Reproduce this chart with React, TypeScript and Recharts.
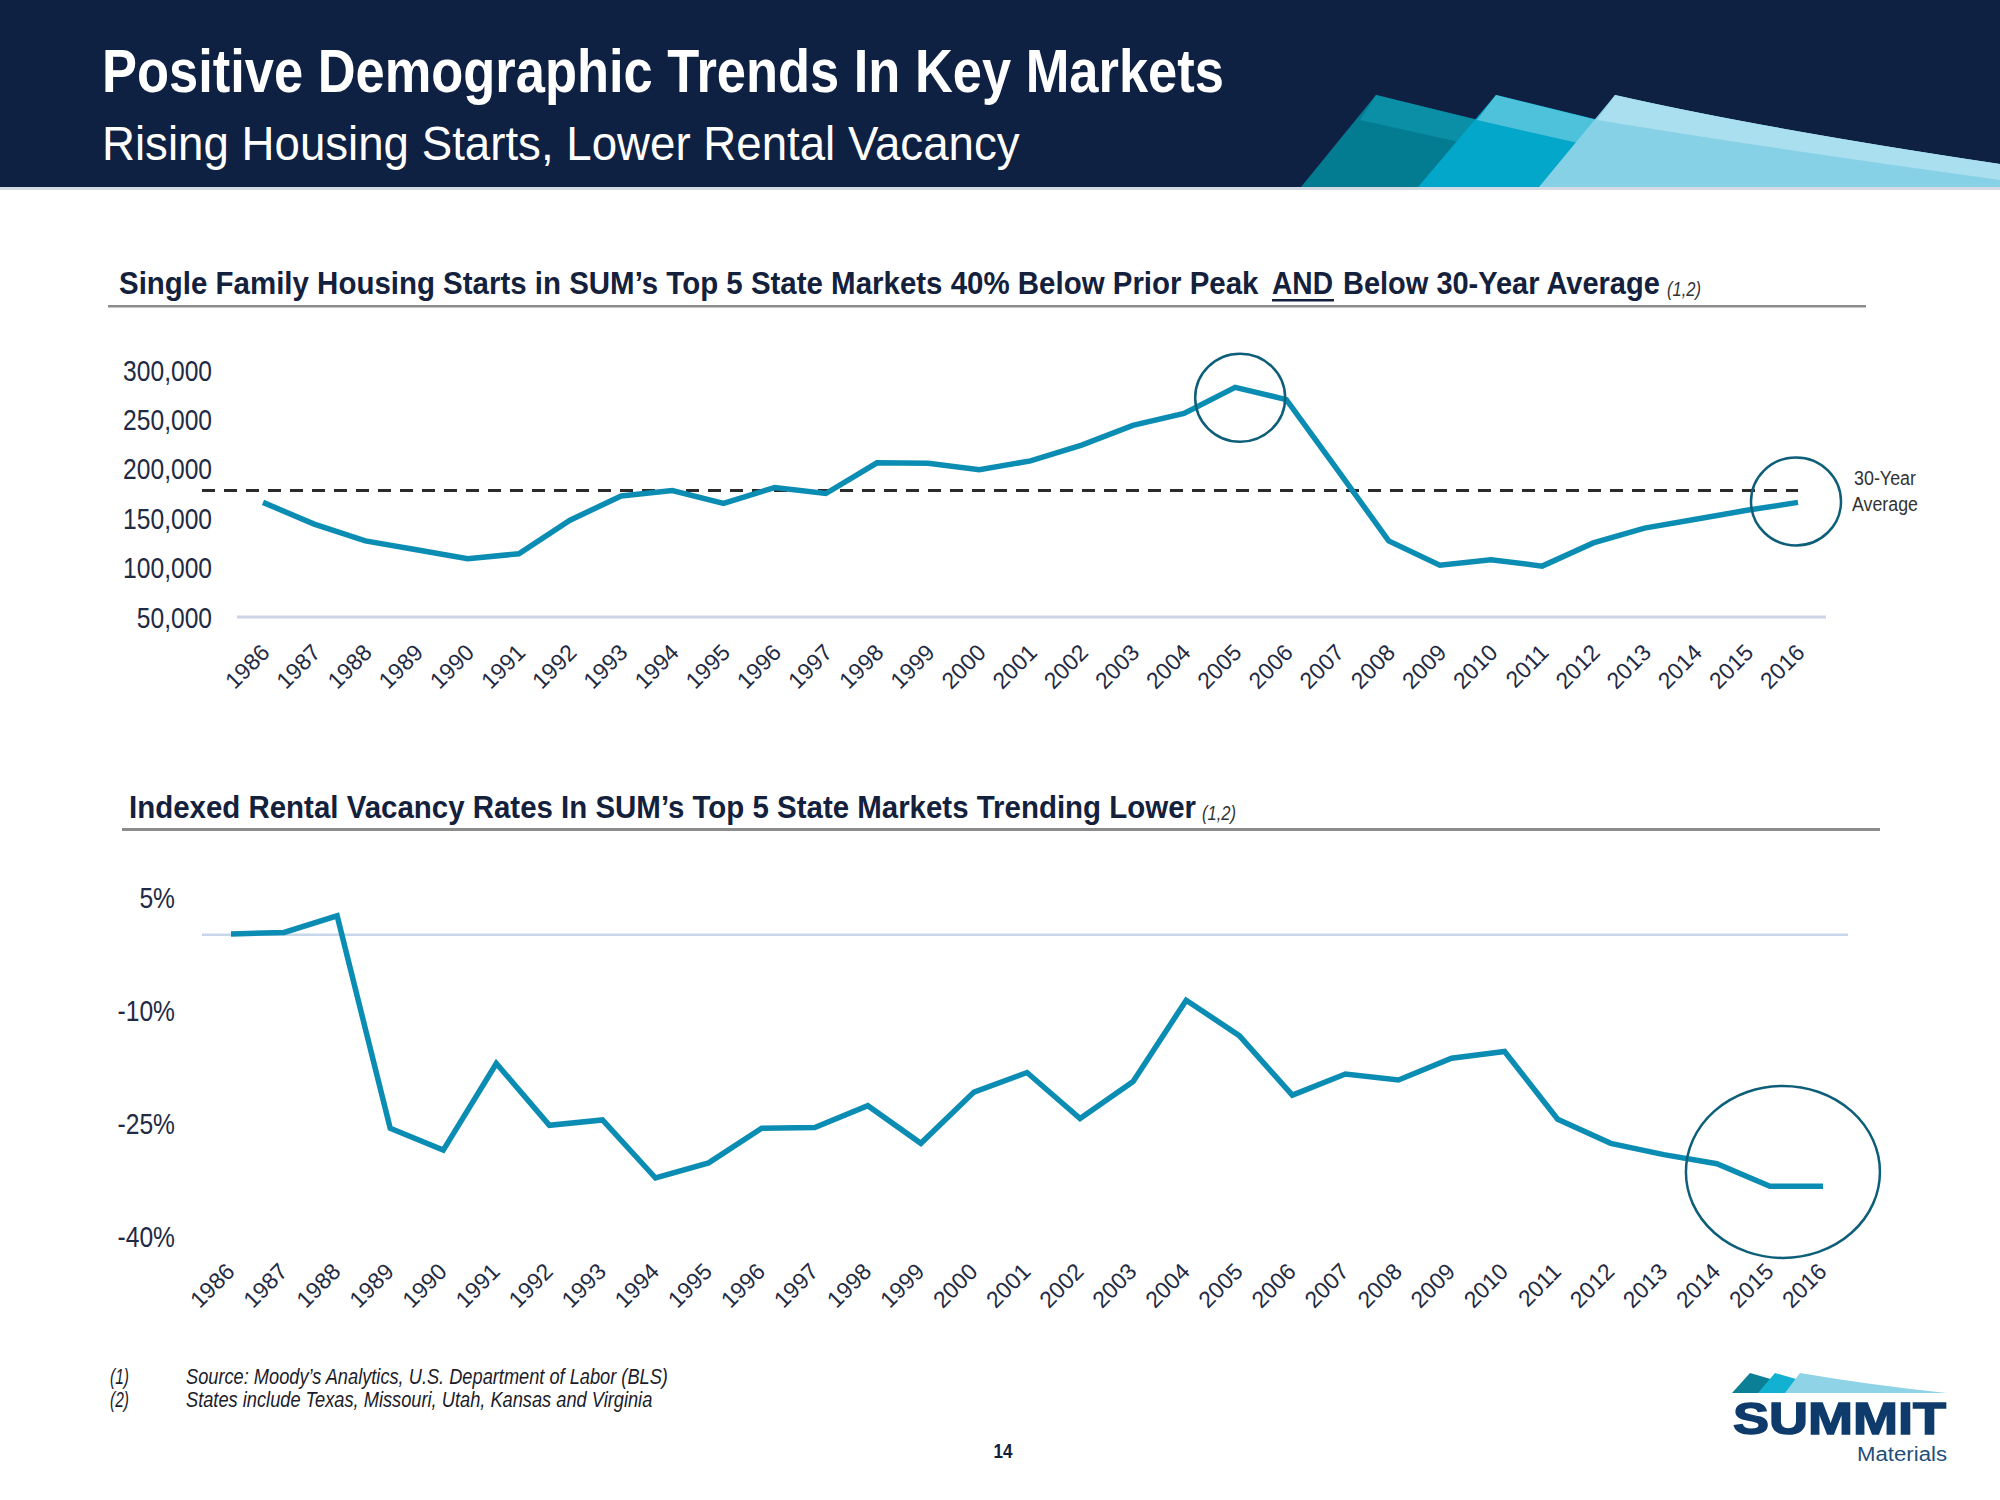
import React from "react";
import {
  LineChart,
  Line,
  XAxis,
  YAxis,
  ReferenceLine,
  ReferenceDot,
} from "recharts";

// categories
const years = [
  "1986", "1987", "1988", "1989", "1990", "1991", "1992", "1993", "1994", "1995", "1996",
  "1997", "1998", "1999", "2000", "2001", "2002", "2003", "2004", "2005", "2006",
  "2007", "2008", "2009", "2010", "2011", "2012", "2013", "2014", "2015", "2016",
];

// single family housing starts
const housingStarts = [
  166000, 144000, 127000, 118000, 109000, 114000, 148000, 172500, 178000, 165000, 181000,
  175000, 206000, 205500, 199000, 208000, 224000, 244000, 256000, 282500, 270000,
  199000, 127000, 102500, 108000, 101500, 125000, 140000, 149000, 158000, 166000,
];
const thirtyYearAverage = 178000;
const startsTicks = [50000, 100000, 150000, 200000, 250000, 300000];

// indexed rental vacancy, % change
const vacancyIndex = [
  0.1, 0.3, 2.5, -25.7, -28.6, -17.1, -25.3, -24.6, -32.3, -30.3, -25.7,
  -25.6, -22.7, -27.7, -20.9, -18.3, -24.4, -19.5, -8.7, -13.4, -21.3,
  -18.5, -19.3, -16.4, -15.5, -24.5, -27.7, -29.2, -30.4, -33.4, -33.4,
];
const vacancyTicks = [5, -10, -25, -40];

const footnotes = [
  ["(1)", "Source:  Moody\u2019s Analytics, U.S. Department of Labor (BLS)"],
  ["(2)", "States include Texas, Missouri, Utah, Kansas and Virginia"],
];

const NAVY = "#14213d";
const TEXT = "#1f2a44";
const LINE = "#0b8db3";
const RING = "#0d5f79";
const SANS = "'Liberation Sans', Arial, sans-serif";

const startsData = years.map((year, i) => ({ year, value: housingStarts[i] }));
const vacancyData = years.map((year, i) => ({ year, value: vacancyIndex[i] }));

// the slide uses a narrow face we don't have, so squeeze regular text to the width it takes
let measureCtx: CanvasRenderingContext2D | null = null;
const measure = (text: string, font: string) => {
  if (!measureCtx) measureCtx = document.createElement("canvas").getContext("2d");
  if (!measureCtx) return 0;
  measureCtx.font = font;
  return measureCtx.measureText(text).width;
};

interface FitTextProps {
  x: number;
  y: number;
  width: number;
  size: number;
  text: string;
  weight?: string;
  italic?: boolean;
  anchor?: "start" | "middle" | "end";
  fill?: string;
  family?: string;
  stroke?: string;
}

const FitText = ({
  x,
  y,
  width,
  size,
  text,
  weight = "normal",
  italic = false,
  anchor = "start",
  fill = NAVY,
  family = SANS,
  stroke,
}: FitTextProps) => {
  const natural = measure(text, `${italic ? "italic " : ""}${weight} ${size}px ${family}`);
  const sx = natural > 0 ? width / natural : 1;
  return (
    <text
      x={0}
      y={0}
      transform={`translate(${x} ${y}) scale(${sx} 1)`}
      fontSize={size}
      fontWeight={weight}
      fontStyle={italic ? "italic" : "normal"}
      fontFamily={family}
      textAnchor={anchor}
      fill={fill}
      stroke={stroke}
      strokeWidth={stroke ? 1.5 : undefined}
    >
      {text}
    </text>
  );
};

// rotated year labels under both charts
const YearTick = ({ x, y, payload, dx }: any) => {
  const ax = x + dx;
  const ay = y + 37;
  return (
    <text
      x={ax}
      y={ay}
      transform={`rotate(-45, ${ax}, ${ay})`}
      textAnchor='end'
      fontSize={23}
      fill={TEXT}
      fontFamily={SANS}
    >
      {payload.value}
    </text>
  );
};

// value labels, squeezed to look like the narrow face on the slide
const ValueTick = ({ x, y, payload, format }: any) => (
  <text
    x={x}
    y={y}
    dy='0.355em'
    textAnchor='end'
    fontSize={30}
    fill={TEXT}
    fontFamily={SANS}
    transform={`translate(${x} 0) scale(0.82 1) translate(${-x} 0)`}
  >
    {format(payload.value)}
  </text>
);

// hand drawn style rings
const ring = (rx: number, ry: number, dx = 0) => (p: any) => (
  <ellipse
    cx={p.cx + dx}
    cy={p.cy}
    rx={rx}
    ry={ry}
    fill='none'
    stroke={RING}
    strokeWidth={2.5}
  />
);

// dashed average runs a bit past the axis on the left, stops at 2016
const AverageLine = (p: any) => (
  <line
    x1={p.x1 - 35}
    y1={p.y1}
    x2={p.x2 - 28}
    y2={p.y2}
    stroke='#2b2b2b'
    strokeWidth={3}
    strokeDasharray='13 9'
  />
);

const Slide = () => (
  <svg width={2000} height={1500} style={{ position: "absolute", left: 0, top: 0 }}>
    {/* header band */}
    <rect x={0} y={0} width={2000} height={187} fill='#0f2143' />
    <path d='M1301,187 L1376,95 L1540,135 L1540,187 Z' fill='#037b91' />
    <path d='M1360,120 L1376,95 L1477,120 L1459,142 Z' fill='#0a8fa7' />
    <path d='M1418,187 L1496,95 L1660,135 L1660,187 Z' fill='#02a7c9' />
    <path d='M1477,120 L1496,95 L1597,120 L1578,143 Z' fill='#4ec2db' />
    <path d='M1539,187 L1615,95 Q1760,128 2000,164 L2000,187 Z' fill='#86d1e5' />
    <path d='M1597,120 L1615,95 Q1760,128 2000,164 L2000,180 Q1780,150 1597,120 Z' fill='#a9dfee' />
    <rect x={0} y={187} width={2000} height={3} fill='#d5dbe5' />

    <FitText x={102} y={92} size={61} weight='bold' fill='#fff' width={1122} text='Positive Demographic Trends In Key Markets' />
    <FitText x={102} y={160} size={48} fill='#fff' width={918} text='Rising Housing Starts, Lower Rental Vacancy' />

    {/* top chart title */}
    <FitText x={119} y={294} size={32} weight='bold' width={1140} text={"Single Family Housing Starts in SUM\u2019s Top 5 State Markets 40% Below Prior Peak"} />
    <FitText x={1272} y={294} size={32} weight='bold' width={61} text='AND' />
    <rect x={1272} y={299} width={62} height={2.5} fill={NAVY} />
    <FitText x={1343} y={294} size={32} weight='bold' width={318} text='Below 30-Year Average' />
    <FitText x={1667} y={296} size={20} italic fill='#333' width={34} text='(1,2)' />
    <rect x={108} y={305} width={1758} height={2.5} fill='#8c8c8c' />

    <FitText x={1885} y={485} size={21} anchor='middle' fill='#333' width={62} text='30-Year' />
    <FitText x={1885} y={511} size={21} anchor='middle' fill='#333' width={66} text='Average' />

    {/* bottom chart title */}
    <FitText x={129} y={818} size={32} weight='bold' width={1067} text={"Indexed Rental Vacancy Rates In SUM\u2019s Top 5 State Markets Trending Lower"} />
    <FitText x={1202} y={820} size={20} italic fill='#333' width={34} text='(1,2)' />
    <rect x={122} y={828} width={1758} height={3} fill='#8c8c8c' />

    {/* footnotes */}
    {footnotes.map(([num, note], i) => (
      <g key={num}>
        <FitText x={110} y={1384 + i * 23} size={22} italic fill='#1c1c2a' width={19} text={num} />
        <FitText x={186} y={1384 + i * 23} size={22} italic fill='#1c1c2a' width={i === 0 ? 488 : 467} text={note} />
      </g>
    ))}
    <FitText x={1003} y={1458} size={20} weight='bold' anchor='middle' width={19} text='14' />

    {/* logo */}
    <path d='M1732,1393 L1750,1373 L1795,1386 L1795,1393 Z' fill='#0b7f95' />
    <path d='M1758,1393 L1775,1373 L1820,1386 L1820,1393 Z' fill='#12b1d1' />
    <path d='M1785,1393 L1800,1373 Q1870,1385 1947,1393 Z' fill='#8fd3e6' />
    <FitText x={1733} y={1434} size={45} weight='bold' fill='#0e3b6b' stroke='#0e3b6b' width={213} text='SUMMIT' />
    <FitText x={1947} y={1461} size={20} anchor='end' fill='#1f4f7a' width={90} text='Materials' />
  </svg>
);

const App = () => {
  return (
    <div
      style={{
        position: "absolute",
        left: 0,
        top: 0,
        width: 2000,
        height: 1500,
        background: "#fff",
        overflow: "hidden",
      }}
    >
      <Slide />

      {/* Housing starts */}
      <div style={{ position: "absolute", left: 0, top: 330 }}>
        <LineChart
          width={2000}
          height={380}
          data={startsData}
          margin={{ top: 40, right: 174, bottom: 13, left: 100 }}
        >
          <XAxis
            dataKey='year'
            interval={0}
            axisLine={false}
            tickLine={false}
            tickSize={0}
            tickMargin={0}
            height={80}
            padding={{ left: 26, right: 28 }}
            tick={(p: any) => <YearTick {...p} dx={8} />}
          />
          <YAxis
            width={137}
            domain={[50000, 300000]}
            ticks={startsTicks}
            axisLine={false}
            tickLine={false}
            tickSize={0}
            tickMargin={25}
            tick={(p: any) => (
              <ValueTick {...p} format={(v: number) => v.toLocaleString("en-US")} />
            )}
          />
          <ReferenceLine y={50000} stroke='#cdd4e6' strokeWidth={3} />
          <ReferenceLine y={thirtyYearAverage} shape={AverageLine} />
          <Line
            type='linear'
            dataKey='value'
            stroke={LINE}
            strokeWidth={5.5}
            dot={false}
            activeDot={false}
            isAnimationActive={false}
          />
          <ReferenceDot x='2005' y={272000} r={45} ifOverflow='visible' shape={ring(45, 44, 5)} />
          <ReferenceDot x='2016' y={167000} r={45} ifOverflow='visible' shape={ring(45, 44, -2)} />
        </LineChart>
      </div>

      {/* Rental vacancy */}
      <div style={{ position: "absolute", left: 0, top: 860 }}>
        <LineChart
          width={2000}
          height={460}
          data={vacancyData}
          margin={{ top: 37, right: 152, bottom: 14, left: 100 }}
        >
          <XAxis
            dataKey='year'
            interval={0}
            axisLine={false}
            tickLine={false}
            tickSize={0}
            tickMargin={0}
            height={70}
            padding={{ left: 29, right: 25 }}
            tick={(p: any) => <YearTick {...p} dx={5} />}
          />
          <YAxis
            width={102}
            domain={[-40, 5]}
            ticks={vacancyTicks}
            axisLine={false}
            tickLine={false}
            tickSize={0}
            tickMargin={27}
            tick={(p: any) => <ValueTick {...p} format={(v: number) => `${v}%`} />}
          />
          <ReferenceLine y={0} stroke='#c7d7e9' strokeWidth={2.5} />
          <Line
            type='linear'
            dataKey='value'
            stroke={LINE}
            strokeWidth={5.5}
            dot={false}
            activeDot={false}
            isAnimationActive={false}
          />
          <ReferenceDot x='2015' y={-31.5} r={90} ifOverflow='visible' shape={ring(97, 86, 13)} />
        </LineChart>
      </div>
    </div>
  );
};

export default App;
